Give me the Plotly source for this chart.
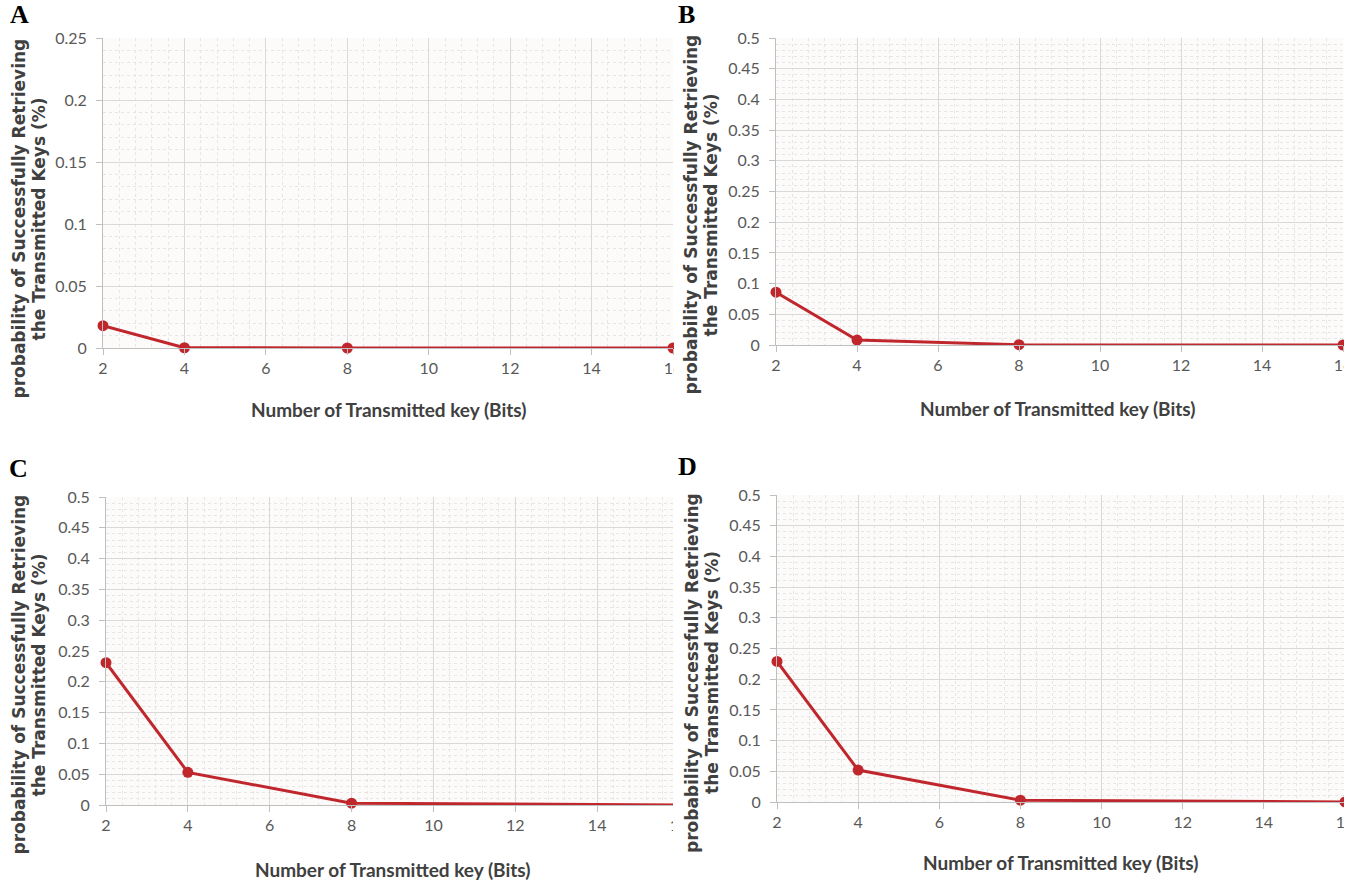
import plotly.graph_objects as go

W, H = 1359, 885

# ---- data ----
key_bits = [2, 4, 8, 16]
prob_A = [0.018, 0.0002, 0.0, 0.0]
prob_B = [0.086, 0.008, 0.0005, 0.0]
prob_C = [0.231, 0.053, 0.003, 0.0001]
prob_D = [0.229, 0.052, 0.003, 0.0001]
panel_letters = ["A", "B", "C", "D"]
x_title = "Number of Transmitted key (Bits)"
y_title_1 = "probability of Successfully Retrieving"
y_title_2 = "the Transmitted Keys (%)"
y_max = [0.25, 0.5, 0.5, 0.5]

def px(x):
    return x / W

def py(y):
    return 1 - y / H

# panel geometry in pixels
geom = [
    dict(x0=103, x1=673, yt=38, yb=348, xt=(389, 410), yt_ann=(18.5, 219), let=(19, 15), crop=(674, 30, 688, 390)),
    dict(x0=776, x1=1343, yt=38, yb=345, xt=(1058, 408), yt_ann=(690.5, 215), let=(686, 15), crop=(1344, 0, 1359, 440)),
    dict(x0=106, x1=679, yt=497, yb=805, xt=(393, 869), yt_ann=(18.5, 675), let=(18, 468), crop=(673, 470, 688, 850)),
    dict(x0=777, x1=1345, yt=495, yb=802, xt=(1061, 862), yt_ann=(692, 673), let=(688, 466), crop=(1344, 440, 1359, 885)),
]

series = [prob_A, prob_B, prob_C, prob_D]
red = "#c0272d"
tick_font = dict(family="Lato, Open Sans, sans-serif", size=16, color="#595959")
xtitle_font = dict(family="Lato, Open Sans, sans-serif", size=19, color="#404040")
ytitle_font = dict(family="DejaVu Sans, sans-serif", size=17, color="#404040")

fig = go.Figure()
layout = dict(
    autosize=True, margin=dict(l=0, r=0, t=0, b=0, pad=0),
    paper_bgcolor="white", plot_bgcolor="#fdfafa", showlegend=False,
    annotations=[], shapes=[],
)

for i, (g, vals) in enumerate(zip(geom, series)):
    n = "" if i == 0 else str(i + 1)
    fig.add_trace(go.Scatter(
        x=key_bits, y=vals, mode="lines+markers",
        line=dict(color=red, width=3), marker=dict(color=red, size=11),
        xaxis="x" + n, yaxis="y" + n, cliponaxis=False,
    ))
    layout["xaxis" + n] = dict(
        domain=[px(g["x0"]), px(g["x1"])], range=[2, 16], anchor="y" + n,
        tick0=2, dtick=2, showgrid=True, gridcolor="#d9d9d9", gridwidth=1,
        minor=dict(dtick=0.4, tick0=2, showgrid=True, gridcolor="#e6e6e6", griddash="dot", gridwidth=1),
        showline=True, linecolor="#bfbfbf", linewidth=1,
        ticks="outside", ticklen=6, tickcolor="#bfbfbf",
        tickfont=tick_font, zeroline=False, fixedrange=True, automargin=False,
    )
    layout["yaxis" + n] = dict(
        domain=[py(g["yb"]), py(g["yt"])], range=[0, y_max[i]], anchor="x" + n,
        tick0=0, dtick=0.05, showgrid=True, gridcolor="#d9d9d9", gridwidth=1,
        minor=dict(dtick=0.01, showgrid=True, gridcolor="#e6e6e6", griddash="dot", gridwidth=1),
        showline=True, linecolor="#bfbfbf", linewidth=1,
        ticks="outside", ticklen=6, tickcolor="#bfbfbf", ticklabelstandoff=6,
        tickfont=tick_font, zeroline=False, fixedrange=True, automargin=False,
    )
    cx0, cy0, cx1, cy1 = g["crop"]
    layout["shapes"].append(dict(
        type="rect", xref="paper", yref="paper", layer="above",
        x0=px(cx0), x1=px(cx1), y0=py(cy1), y1=py(cy0),
        fillcolor="white", line=dict(width=0),
    ))
    layout["annotations"].append(dict(
        text="<b>" + x_title + "</b>", xref="paper", yref="paper",
        x=px(g["xt"][0]), y=py(g["xt"][1]), xanchor="center", yanchor="middle",
        showarrow=False, font=xtitle_font,
    ))
    for k, line in enumerate([y_title_1, y_title_2]):
        layout["annotations"].append(dict(
            text="<b>" + line + "</b>", xref="paper", yref="paper",
            x=px(g["yt_ann"][0] + 20 * k), y=py(g["yt_ann"][1]), xanchor="center", yanchor="middle",
            showarrow=False, font=ytitle_font, textangle=-90,
        ))
    layout["annotations"].append(dict(
        text="<b>" + panel_letters[i] + "</b>", xref="paper", yref="paper",
        x=px(g["let"][0]), y=py(g["let"][1]), xanchor="center", yanchor="middle",
        showarrow=False, font=dict(family="Liberation Serif, Times New Roman, serif", size=26, color="black"),
    ))

fig.update_layout(**layout)
fig.write_html(
    "out.html",
    config={"displayModeBar": False, "responsive": True},
    default_width=f"{W}px",
    default_height=f"{H}px; position:fixed; top:0; left:0",
    post_script="document.body.style.margin='0';document.body.style.overflow='hidden';",
)
